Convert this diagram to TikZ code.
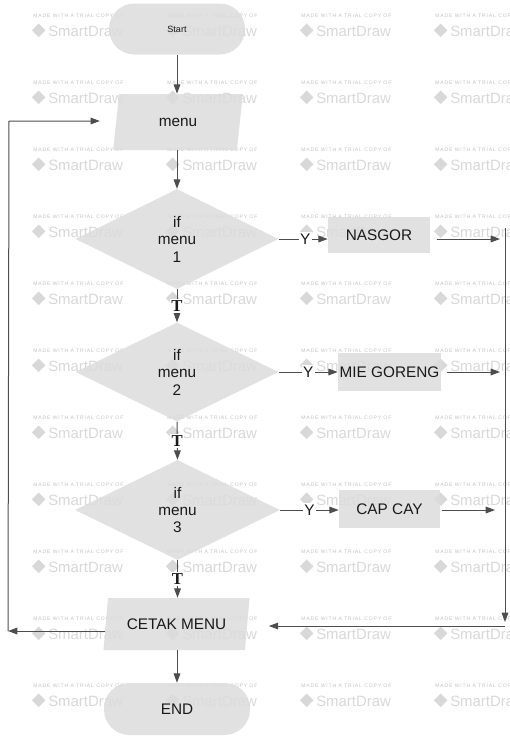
\documentclass[tikz,border=0pt]{standalone}
\usepackage{fontspec}
\setmainfont{Liberation Sans}
\newfontfamily\tfont{Liberation Serif}
\newfontfamily\wmfont[LetterSpace=17]{Liberation Sans}
\newfontfamily\symfont{DejaVu Sans}
\usetikzlibrary{shapes.geometric,arrows.meta,calc,positioning}
\definecolor{shapegray}{HTML}{DCDCDC}
\definecolor{linegray}{HTML}{4D4D4D}
\definecolor{markgray}{HTML}{D8D8D8}
\tikzset{
	base/.style={draw=none,fill=shapegray,fill opacity=0.85,text opacity=1,text=black!90,inner sep=0pt},
	term/.style={base,rectangle,rounded corners=19pt,minimum width=109.5pt,minimum height=39pt},
	io/.style={base,trapezium,trapezium stretches=true,trapezium left angle=77,trapezium right angle=103},
	cond/.style={base,diamond,align=center,minimum width=152.25pt,minimum height=75pt},
	proc/.style={base,rectangle,minimum width=76.5pt,minimum height=28.5pt},
	arr/.style={draw=linegray,line width=0.75pt,-{Triangle[length=7pt,width=5pt]}},
	lbl/.style={fill=white,inner sep=1pt,text=black!90},
	tlbl/.style={lbl,font=\tfont\bfseries\fontsize{12.5}{13}\selectfont}
}
\begin{document}
\begin{tikzpicture}[x=0.75pt,y=-0.75pt,line join=round,font=\fontsize{11.5}{13.1}\selectfont]
		\useasboundingbox (0,0) rectangle (510,736);
		\foreach \x in {33,167,301,435}{\foreach \y in {16,83,...,686}{
			\node[anchor=west,inner sep=0pt,text=markgray!90!black,font=\wmfont\fontsize{3.8}{4}\selectfont] (wa-\x-\y) at (\x,\y) {MADE WITH A TRIAL COPY OF};
			\node[anchor=west,inner sep=0pt,text=markgray,font=\symfont\fontsize{13.5}{13.5}\selectfont] (wb-\x-\y) at (\x-1.5,\y+15) {◆};
			\node[anchor=west,inner sep=0pt,text=markgray,font=\fontsize{11.2}{11}\selectfont] (wc-\x-\y) at (\x+15,\y+15) {SmartDraw};}}
		\node[term,minimum width=102pt,minimum height=38.25pt,font=\fontsize{6.8}{7}\selectfont] (start) at (177,29) {Start};
		\node[io,minimum width=97.5pt,minimum height=42pt] (menu) at (178,122) {menu};
		\node[cond] (c1) at (177,239) {if\\menu\\1};
		\node[cond,minimum height=74.25pt] (c2) at (177,372) {if\\menu\\2};
		\node[cond,minimum width=153.75pt] (c3) at (177.5,510) {if\\menu\\3};
		\node[proc,minimum height=27pt] (n1) at (379,235) {NASGOR};
		\node[proc,minimum width=77.25pt] (n2) at (389.5,372) {MIE GORENG};
		\node[proc,minimum width=75.75pt] (n3) at (389.5,509) {CAP CAY};
		\node[io,minimum width=110.25pt,minimum height=39pt,trapezium left angle=73,trapezium right angle=107] (print) at (176.5,624) {CETAK MENU};
		\node[term] (end) at (177,709) {END};
		\coordinate (rt) at (505,228);
		\coordinate (rb) at (505,626);
		\coordinate (lb) at (8,631);
		\coordinate (lt) at (9,121);
		\draw[arr] (start.south) -- (start.south |- menu.north);
		\draw[arr] (c1.north |- menu.south) -- (c1.north);
		\draw[arr] (c1.south) -- node[tlbl]{T} (c2.north);
		\draw[arr] (c2.south) -- node[tlbl]{T} (c3.north);
		\draw[arr] (c3.south) -- node[tlbl]{T} (c3.south |- print.north);
		\draw[arr] (c1.east) -- node[lbl,xshift=1.5pt]{Y} (c1.east -| n1.west);
		\draw[arr] (c2.east) -- node[lbl]{Y} (c2.east -| n2.west);
		\draw[arr] (c3.east) -- node[lbl]{Y} (c3.east -| n3.west);
		\draw[arr,shorten <=5pt,shorten >=3.75pt] (n1.east |- c1.east) -- (c1.east -| rt);
		\draw[arr,shorten <=4.5pt,shorten >=3.75pt] (n2.east |- c2.east) -- (c2.east -| rt);
		\draw[arr,shorten <=1.5pt,shorten >=7.5pt] (n3.east |- c3.east) -- (c3.east -| rt);
		\draw[arr,shorten >=3pt] (rt) -- (rb);
		\draw[arr,shorten >=16pt] (rb) -- (rb -| print.east);
		\draw[arr] (print.west |- lb) -- (lb);
		\draw[arr,shorten >=12pt] (lb) -- (lt) -- (lt -| menu.west);
		\draw[arr] (end.north |- print.south) -- (end.north);
\end{tikzpicture}
\end{document}
